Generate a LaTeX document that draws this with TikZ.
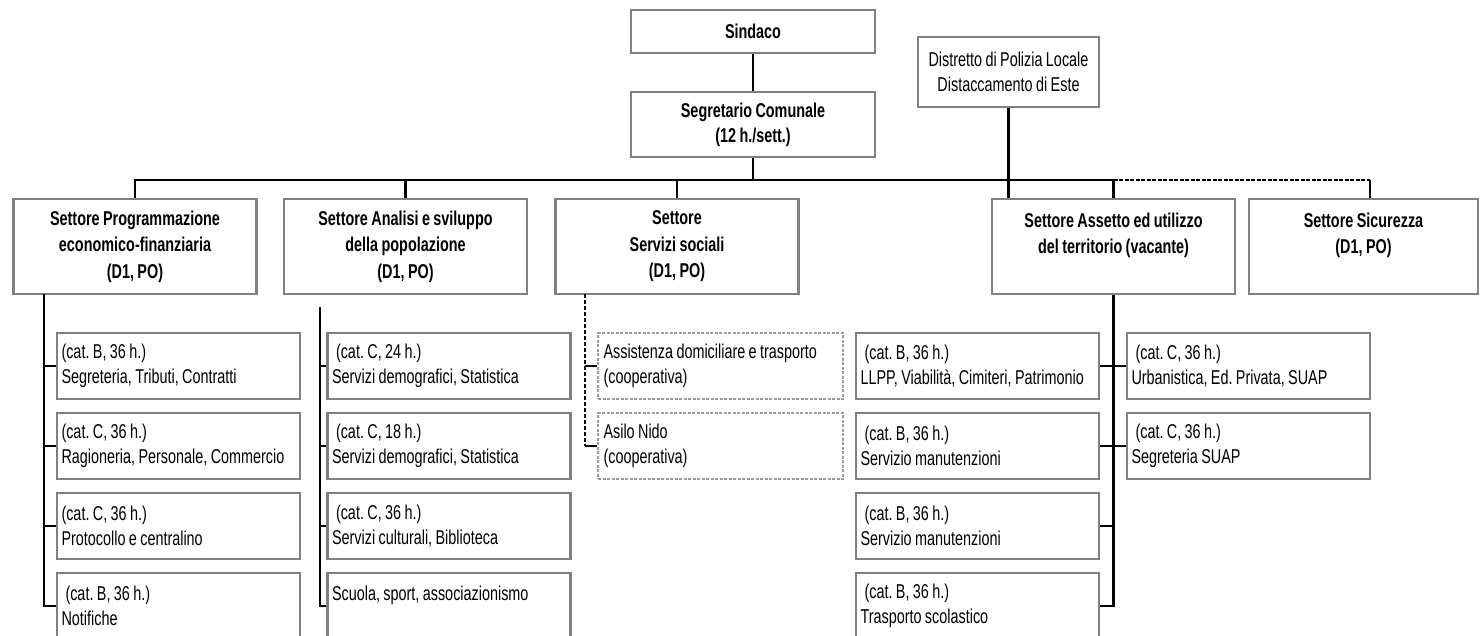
\documentclass[tikz,border=0pt]{standalone}
\usepackage{fontspec}
\setmainfont{Liberation Sans}[FakeStretch=0.72, WordSpace=0.85]
\usepackage{tikz}
\frenchspacing

\definecolor{boxgray}{RGB}{128,128,128}
\definecolor{coopgray}{RGB}{155,155,155}

\tikzset{
  box/.style={draw=boxgray, line width=2.4pt, fill=white, inner sep=0pt},
  capo/.style={box, minimum width=244pt, align=center, font=\bfseries\fontsize{20}{25}\selectfont},
  settore/.style={box, minimum width=243pt, minimum height=95pt, align=center, font=\bfseries\fontsize{20}{26.5}\selectfont},
  ufficio/.style={box, minimum width=243pt, minimum height=66pt, text width=234pt, align=flush left, font=\fontsize{20}{25}\selectfont},
  coop/.style={ufficio, draw=coopgray, dash pattern=on 3pt off 1.5pt},
  conn/.style={line width=2.6pt, line join=miter},
}

\begin{document}
\begin{tikzpicture}[x=1pt, y=-1pt]
    \fill[white] (0,0) rectangle (1480,636);
    \useasboundingbox (0,0) rectangle (1480,636);

    % vertici
    \node[capo, minimum height=43pt] (sindaco) at (753,31.5) {Sindaco};
    \node[capo, minimum height=65pt] (segretario) at (753,124.5) {Segretario Comunale\\(12 h./sett.)};
    \node[box, minimum width=181pt, minimum height=70pt, align=center, font=\fontsize{20}{25}\selectfont] (distretto) at (1008.5,72) {Distretto di Polizia Locale\\Distaccamento di Este};

    % settori
    \node[settore] (prog) at (135,246.5) {Settore Programmazione\\economico-finanziaria\\(D1, PO)};
    \node[settore] (anal) at (405.5,246.5) {Settore Analisi e sviluppo\\della popolazione\\(D1, PO)};
    \node[settore] (soc) at (677,246.5) {Settore\\Servizi sociali\\(D1, PO)};
    \node[settore] (asse) at (1113.5,246.5) {Settore Assetto ed utilizzo\\del territorio (vacante)\\~};
    \node[settore, minimum width=229pt] (sic) at (1363.5,246.5) {Settore Sicurezza\\(D1, PO)\\~};

    % uffici
    \node[ufficio] (p1) at (178.5,366) {(cat. B, 36 h.)\\Segreteria, Tributi, Contratti};
    \node[ufficio] (p2) at (178.5,446) {(cat. C, 36 h.)\\Ragioneria, Personale, Commercio};
    \node[ufficio] (p3) at (178.5,526) {(cat. C, 36 h.)\\Protocollo e centralino};
    \node[ufficio] (p4) at (178.5,606) {\hspace*{4pt}(cat. B, 36 h.)\\Notifiche};

    \node[ufficio] (a1) at (449,366) {\hspace*{4pt}(cat. C, 24 h.)\\Servizi demografici, Statistica};
    \node[ufficio] (a2) at (449,446) {\hspace*{4pt}(cat. C, 18 h.)\\Servizi demografici, Statistica};
    \node[ufficio] (a3) at (449,526) {\hspace*{4pt}(cat. C, 36 h.)\\Servizi culturali, Biblioteca};
    \node[ufficio] (a4) at (449,606) {Scuola, sport, associazionismo\\~};

    \node[coop, minimum width=245pt] (s1) at (720.5,366) {Assistenza domiciliare e trasporto\\(cooperativa)};
    \node[coop, minimum width=245pt] (s2) at (720.5,446) {Asilo Nido\\(cooperativa)};

    \node[ufficio] (t1) at (977.5,366) {\hspace*{4pt}(cat. B, 36 h.)\\LLPP, Viabilità, Cimiteri, Patrimonio};
    \node[ufficio] (t2) at (977.5,446) {\hspace*{4pt}(cat. B, 36 h.)\\Servizio manutenzioni};
    \node[ufficio] (t3) at (977.5,526) {\hspace*{4pt}(cat. B, 36 h.)\\Servizio manutenzioni};
    \node[ufficio] (t4) at (977.5,606) {\hspace*{4pt}(cat. B, 36 h.)\\Trasporto scolastico};
    \node[ufficio] (e1) at (1248.5,366) {\hspace*{4pt}(cat. C, 36 h.)\\Urbanistica, Ed. Privata, SUAP};
    \node[ufficio] (e2) at (1248.5,446) {\hspace*{4pt}(cat. C, 36 h.)\\Segreteria SUAP};

    % linee principali
    \coordinate (busR) at (asse.north |- 0,180);
    \coordinate (sicbus) at (1370,180);
    \draw[conn] (sindaco) -- (segretario);
    \draw[conn] (prog.north) |- (busR) -- (asse.north);
    \draw[conn] (segretario) -- (segretario.south |- busR);
    \draw[conn] (anal.north) -- (anal.north |- busR);
    \draw[conn] (soc.north) -- (soc.north |- busR);
    \draw[conn] (distretto) -- (distretto.south |- asse.north);
    \draw[conn, line width=2pt, dash pattern=on 4pt off 1.5pt] (busR) -- (sicbus);
    \draw[conn] (sicbus) -- (sicbus |- sic.north);

    % diramazioni
    \coordinate (sp1) at (44,294);
    \draw[conn] (sp1) |- (p4.west);
    \draw[conn] (sp1 |- p1.west) -- (p1.west);
    \draw[conn] (sp1 |- p2.west) -- (p2.west);
    \draw[conn] (sp1 |- p3.west) -- (p3.west);

    \coordinate (sp2) at (320,307);
    \draw[conn] (sp2) |- (a4.west);
    \draw[conn] (sp2 |- a1.west) -- (a1.west);
    \draw[conn] (sp2 |- a2.west) -- (a2.west);
    \draw[conn] (sp2 |- a3.west) -- (a3.west);

    \coordinate (sp3) at (585,294);
    \draw[conn, dash pattern=on 4pt off 2pt] (sp3) -- (sp3 |- s2.west);
    \draw[conn] (sp3 |- s1.west) -- (s1.west);
    \draw[conn] (sp3 |- s2.west) -- (s2.west);

    \draw[conn] (asse.south) |- (t4.east);
    \draw[conn] (asse.south |- t1.east) -- (t1.east);
    \draw[conn] (asse.south |- t2.east) -- (t2.east);
    \draw[conn] (asse.south |- t3.east) -- (t3.east);
    \draw[conn] (asse.south |- e1.west) -- (e1.west);
    \draw[conn] (asse.south |- e2.west) -- (e2.west);
\end{tikzpicture}
\end{document}
